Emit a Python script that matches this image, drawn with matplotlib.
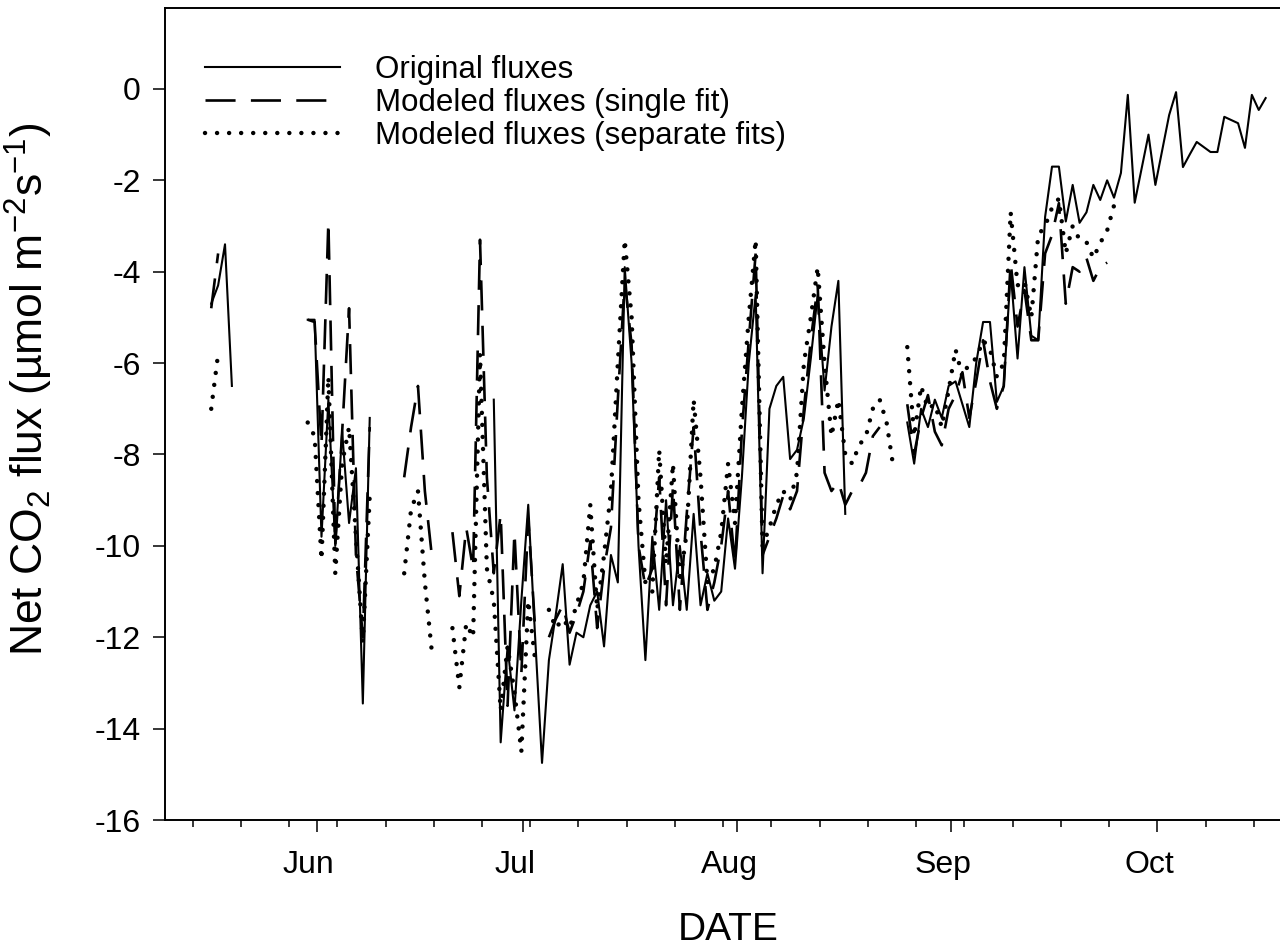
import numpy as np
import pandas as pd
import matplotlib
matplotlib.use("Agg")
import matplotlib.pyplot as plt
import matplotlib.dates as mdates
import matplotlib.transforms as mtransforms

nan = np.nan

# one value per day, first day May 16 (afternoon readings)
days = pd.date_range("2007-05-16 17:00", periods=154, freq="D")

original = [
    -4.7, -4.3, -3.4, -6.5, nan, nan, nan, nan, nan, nan,
    nan, nan, nan, nan, -5.05, -5.05, -9.8, -6.8, -10.0, -7.5,
    -9.5, -8.3, -13.45, -7.2, nan, nan, nan, nan, nan, nan,
    nan, nan, nan, nan, nan, nan, nan, nan, nan, nan,
    nan, -6.8, -14.3, -12.2, -13.6, -11.2, -9.1, -12.0, -14.75, -12.5,
    -11.5, -10.4, -12.6, -11.9, -12.0, -11.3, -11.0, -12.2, -10.2, -10.8,
    -3.9, -6.0, -10.0, -12.5, -9.8, -11.4, -9.0, -11.3, -10.0, -11.4,
    -9.3, -11.3, -10.6, -11.2, -11.0, -9.4, -10.5, -8.5, -6.0, -4.5,
    -10.6, -7.0, -6.5, -6.3, -8.1, -7.9, -7.2, -5.9, -4.5, -6.6,
    -5.2, -4.2, -9.3, nan, nan, nan, nan, nan, nan, nan,
    nan, -7.3, -8.2, -7.0, -7.4, -6.8, -7.2, -6.5, -6.4, -6.9,
    -7.4, -6.0, -5.1, -5.1, -6.85, -6.5, -4.0, -5.9, -3.9, -5.4,
    -5.5, -2.8, -1.7, -1.7, -2.9, -2.1, -2.93, -2.7, -2.1, -2.43,
    -2.0, -2.38, -1.84, -0.13, -2.49, -1.75, -1.0, -2.1, -1.33, -0.57,
    -0.07, -1.71, -1.43, -1.16, -1.27, -1.38, -1.38, -0.61, -0.68, -0.75,
    -1.29, -0.13, -0.46, -0.2,
]

single_fit = [
    -4.8, -3.6, nan, nan, nan, nan, nan, nan, nan, nan,
    nan, nan, nan, nan, -5.05, -5.1, -7.8, -2.9, -10.0, -7.5,
    -4.8, -10.2, -12.0, -7.4, nan, nan, nan, nan, -8.5, -7.4,
    -6.5, -8.8, -10.2, nan, nan, -9.7, -11.1, -9.6, -10.5, -3.3,
    -8.5, -10.6, -9.3, -13.5, -9.7, -12.8, -9.4, -11.8, nan, -12.0,
    -11.6, -11.3, -11.9, -11.5, -11.0, -9.9, -11.8, -10.5, -9.6, -6.8,
    -4.2, -5.6, -10.0, -10.9, -10.5, -8.5, -11.3, -8.7, -11.4, -9.3,
    -7.4, -9.7, -11.4, -10.8, -10.0, -8.8, -10.4, -7.5, -5.5, -3.6,
    -10.2, -9.8, -9.4, -8.9, -9.2, -8.8, -7.0, -5.5, -4.3, -8.4,
    -8.8, -8.6, -9.1, -8.8, -8.7, -8.4, -7.6, -7.4, nan, nan,
    nan, -6.9, -8.0, -7.2, -6.7, -7.5, -7.8, -7.0, -6.7, -6.2,
    -7.2, -6.4, -5.5, -6.4, -7.0, -6.5, -3.8, -5.2, -4.4, -5.5,
    -5.5, -3.6, -3.2, -2.5, -4.7, -3.9, -4.0, -3.7, -4.2, -3.9,
    -3.8, nan, nan, nan, nan, nan, nan, nan, nan, nan,
    nan, nan, nan, nan, nan, nan, nan, nan, nan, nan,
    nan, nan, nan, nan,
]

separate_fits = [
    -7.0, -5.8, nan, nan, nan, nan, nan, nan, nan, nan,
    nan, nan, nan, nan, -7.3, -7.6, -10.3, -6.3, -10.6, -8.2,
    -7.4, -9.8, -12.1, -8.9, nan, nan, nan, nan, -10.6, -9.2,
    -8.8, -10.8, -12.3, nan, nan, -11.8, -13.1, -11.7, -12.0, -5.8,
    -10.5, -11.2, -13.6, -12.2, -13.2, -14.5, -11.2, -12.5, nan, -11.4,
    -11.8, -11.6, -11.8, -11.3, -10.8, -9.1, -11.4, -10.2, -8.8, -6.0,
    -3.3, -5.0, -9.0, -10.8, -11.0, -7.9, -10.4, -8.2, -10.8, -9.7,
    -6.8, -8.5, -10.8, -10.5, -9.7, -8.2, -9.5, -7.0, -5.0, -3.3,
    -10.0, -9.6, -9.1, -8.8, -9.0, -8.4, -6.0, -5.0, -3.9, -6.0,
    -7.6, -6.8, -8.0, -8.2, -7.8, -7.6, -7.0, -6.8, -7.3, -8.3,
    nan, -5.65, -7.6, -6.5, -7.0, -6.9, -7.4, -6.6, -5.7, -6.3,
    -6.0, -5.9, -5.5, -5.7, -6.3, -6.0, -2.7, -4.3, -4.2, -5.0,
    -3.2, -3.0, -2.6, -2.4, -3.6, -3.0, -3.3, -3.35, -3.7, -3.37,
    -3.1, -2.55, nan, nan, nan, nan, nan, nan, nan, nan,
    nan, nan, nan, nan, nan, nan, nan, nan, nan, nan,
    nan, nan, nan, nan,
]

labels = ["Original fluxes", "Modeled fluxes (single fit)", "Modeled fluxes (separate fits)"]

plt.rcParams["font.family"] = ["Liberation Sans", "DejaVu Sans"]
plt.rcParams["mathtext.fontset"] = "custom"
plt.rcParams["mathtext.rm"] = "Liberation Sans"
plt.rcParams["mathtext.it"] = "Liberation Sans:italic"
plt.rcParams["axes.unicode_minus"] = False

fig = plt.figure(figsize=(12.8, 9.49), dpi=100)
ax = fig.add_axes([0.1289, 0.1359, 0.8711, 0.8556])

ax.plot(days, original, color="black", lw=1.5, label=labels[0])
ax.plot(days, single_fit, color="black", lw=1.9, linestyle=(0, (11.4, 5.8)), label=labels[1])
ax.plot(days, separate_fits, color="black", lw=3.2, linestyle=(0, (0.01, 2.7)),
        dash_capstyle="round", label=labels[2])

ax.set_xlim(pd.Timestamp("2007-05-10 00:00"), pd.Timestamp("2007-10-18 19:00"))
ax.set_ylim(-16, 1.77)
ax.set_yticks(np.arange(-16, 1, 2))

ax.xaxis.set_major_locator(mdates.MonthLocator())
ax.xaxis.set_major_formatter(mdates.DateFormatter("%b"))
ax.xaxis.set_minor_locator(mdates.WeekdayLocator(byweekday=mdates.MO))

ax.tick_params(axis="both", which="major", direction="out", length=8.5, width=1.1, labelsize=23)
ax.tick_params(axis="x", which="major", pad=13)
ax.tick_params(axis="y", which="major", pad=9)
ax.tick_params(axis="x", which="minor", direction="out", length=5, width=1.1)

# month names sit a little left of their tick
shift = mtransforms.ScaledTranslation(-0.08, 0, fig.dpi_scale_trans)
for lbl in ax.get_xticklabels():
    lbl.set_transform(lbl.get_transform() + shift)

for side in ["left", "bottom", "top"]:
    ax.spines[side].set_linewidth(1.4)
ax.spines["right"].set_visible(False)

ax.set_xlabel("DATE", fontsize=28)
ax.set_ylabel(r"Net CO$_2$ flux (µmol m$^{-2}$s$^{-1}$)", fontsize=32)
ax.xaxis.set_label_coords(0.505, -0.113)
ax.yaxis.set_label_coords(-0.099, 0.53)

ax.legend(loc="upper left", bbox_to_anchor=(0.036, 0.942), frameon=False, fontsize=22.5,
          handlelength=4.3, handletextpad=1.15, labelspacing=0.1, borderpad=0, borderaxespad=0)

plt.savefig("out.png", dpi=100)
